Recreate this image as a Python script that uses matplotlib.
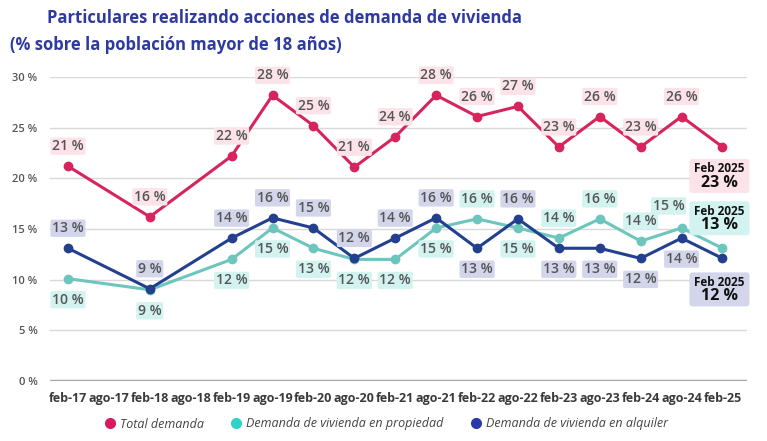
import matplotlib
matplotlib.use("Agg")
import matplotlib.pyplot as plt
import matplotlib.transforms as mtransforms
from matplotlib.patches import FancyBboxPatch
from matplotlib.lines import Line2D

# Data
periodos = ['feb-17', 'ago-17', 'feb-18', 'ago-18', 'feb-19', 'ago-19', 'feb-20', 'ago-20',
            'feb-21', 'ago-21', 'feb-22', 'ago-22', 'feb-23', 'ago-23', 'feb-24', 'ago-24', 'feb-25']
# periods that have a measurement (no data for ago-17 and ago-18)
medidos = ['feb-17', 'feb-18', 'feb-19', 'ago-19', 'feb-20', 'ago-20', 'feb-21', 'ago-21',
           'feb-22', 'ago-22', 'feb-23', 'ago-23', 'feb-24', 'ago-24', 'feb-25']
total = [21.2, 16.2, 22.2, 28.2, 25.2, 21.1, 24.1, 28.2, 26.1, 27.1, 23.1, 26.1, 23.1, 26.1, 23.1]
propiedad = [10.1, 9.0, 12.0, 15.1, 13.1, 12.0, 12.0, 15.1, 16.0, 15.1, 14.1, 16.0, 13.8, 15.1, 13.1]
alquiler = [13.1, 9.1, 14.1, 16.1, 15.1, 12.1, 14.1, 16.1, 13.1, 16.0, 13.1, 13.1, 12.1, 14.1, 12.1]
y_ticks = [0, 5, 10, 15, 20, 25, 30]
ultimo = 'Feb 2025'

C_TOTAL, C_PROP, C_ALQ = '#D7245D', '#6CC6BE', '#23408F'
BG_TOTAL, BG_PROP, BG_ALQ = '#FBE3E9', '#D2F3F0', '#D3D5EB'
TXT = '#555555'

plt.rcParams['font.family'] = ['Open Sans', 'DejaVu Sans']
plt.rcParams['font.stretch'] = 'normal'

fig = plt.figure(figsize=(7.67, 4.41), dpi=100)
ax = fig.add_axes([50 / 767, 60 / 441, 697 / 767, 304 / 441])

xpos = [periodos.index(p) for p in medidos]

ax.set_xlim(-0.44, 16.6)
ax.set_ylim(0, 30)
ax.set_yticks(y_ticks)
ax.set_yticklabels([f'{v} %' for v in y_ticks], color=TXT, fontsize=8, fontweight='semibold')
ax.set_xticks(range(len(periodos)))
ax.set_xticklabels(periodos, color='#3A3A3A', fontsize=9, fontweight='bold',
                   fontstretch='condensed')
ax.tick_params(axis='both', length=0)
ax.tick_params(axis='y', pad=9)
ax.tick_params(axis='x', pad=8)
for s in ax.spines.values():
    s.set_visible(False)
for v in y_ticks[1:]:
    ax.axhline(v, color='#D9D9D9', lw=1, zorder=0)
ax.axhline(0, color='#A6A6A6', lw=2.5, zorder=0)

series = [
    (total, C_TOTAL, BG_TOTAL, ['u'] * 14),
    (propiedad, C_PROP, BG_PROP, ['d'] * 8 + ['u', 'd', 'u', 'u', 'u', 'ul']),
    (alquiler, C_ALQ, BG_ALQ, ['u'] * 8 + ['d', 'u', 'd', 'd', 'd', 'd']),
]
offsets = {'u': (0, 20), 'd': (0, -21), 'ul': (-13, 22)}

for vals, col, bg, pos in series:
    ax.plot(xpos, vals, color=col, lw=2.2, marker='o', ms=6, zorder=3, clip_on=False)
    for x, v, p in zip(xpos, vals, pos):
        ax.annotate(f'{round(v)} %', (x, v), xytext=offsets[p], textcoords='offset pixels',
                    ha='center', va='center', fontsize=10, fontweight='semibold', color=TXT,
                    bbox=dict(boxstyle='round,pad=0.12', fc=bg, ec='none'), zorder=4)

# final value boxes
finales = [(total, BG_TOTAL, -29), (propiedad, BG_PROP, 30), (alquiler, BG_ALQ, -31)]
for vals, bg, dy in finales:
    x, v = xpos[-1], vals[-1]
    tr = mtransforms.ScaledTranslation(x, v, ax.transData)
    box = FancyBboxPatch((-33, dy - 17), 60, 34, boxstyle='round,pad=0,rounding_size=3',
                         fc=bg, ec='none', transform=tr, clip_on=False, zorder=4.5)
    ax.add_artist(box)
    ax.annotate(ultimo, (x, v), xytext=(-3, dy + 7), textcoords='offset pixels', ha='center',
                va='center', fontsize=8.5, fontweight='bold', color='#111111', zorder=5)
    ax.annotate(f'{round(v)} %', (x, v), xytext=(-3, dy - 7), textcoords='offset pixels',
                ha='center', va='center', fontsize=11.5, fontweight='bold', color='#111111', zorder=5)

fig.text(47 / 767, 1 - 18 / 441, 'Particulares realizando acciones de demanda de vivienda',
         fontsize=12, fontweight='bold', color='#2E3A9E', va='center', ha='left')
fig.text(10 / 767, 1 - 45 / 441, '(% sobre la población mayor de 18 años)',
         fontsize=12, fontweight='bold', color='#2E3A9E', va='center', ha='left')

handles = [Line2D([], [], ls='none', marker='o', ms=7, color=c)
           for c in ['#D81B60', '#2ED4C5', '#2B3AAA']]
fig.legend(handles, ['Total demanda', 'Demanda de vivienda en propiedad',
                     'Demanda de vivienda en alquiler'],
           loc='center', bbox_to_anchor=(385 / 767, 1 - 424 / 441), ncol=3, frameon=False,
           handletextpad=0.2, columnspacing=2.0, handlelength=1.2,
           prop=dict(family='Open Sans', stretch='semi-condensed', style='italic', size=9),
           labelcolor='#444444')

fig.savefig('out.png', dpi=100)
